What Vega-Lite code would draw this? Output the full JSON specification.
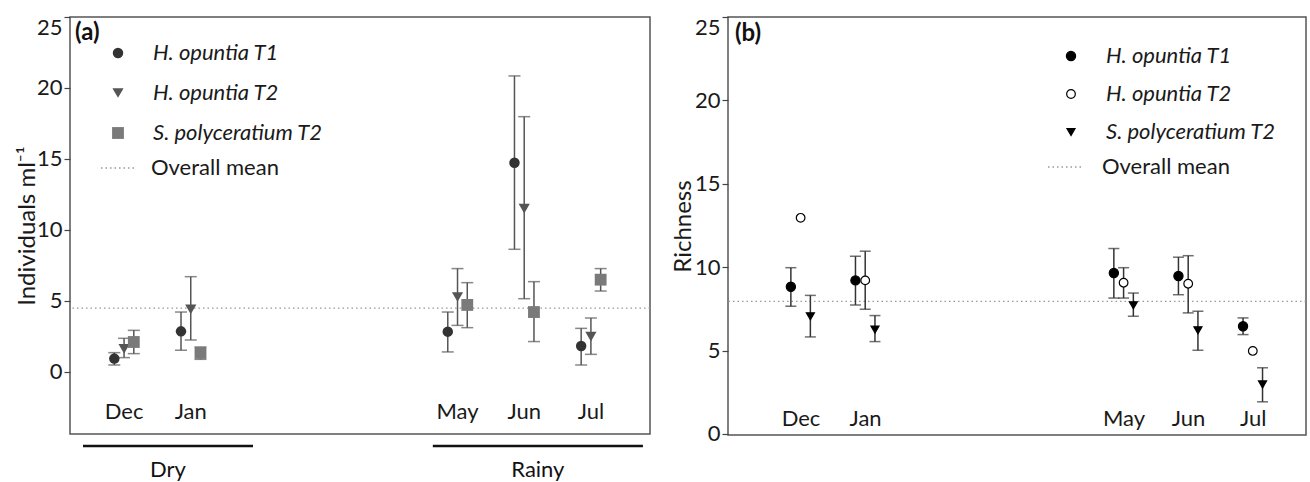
{
  "$schema": "https://vega.github.io/schema/vega-lite/v6.json",
  "padding": {"left": 14, "top": 15, "right": 0, "bottom": 0},
  "background": "white",
  "bounds": "flush",
  "spacing": 78,
  "config": {
    "font": "Lato",
    "view": {"stroke": "#555", "strokeWidth": 1.5},
    "axis": {"grid": false, "labelFont": "Lato", "titleFont": "Lato", "labelColor": "#1a1a1a", "titleColor": "#1a1a1a", "titleFontWeight": "normal"},
    "legend": {"labelFont": "Lato", "labelColor": "#1a1a1a", "labelLimit": 400}
  },
  "resolve": {
    "scale": {"color": "independent", "shape": "independent", "size": "independent", "strokeDash": "independent"},
    "legend": {"color": "independent", "shape": "independent", "size": "independent", "strokeDash": "independent"}
  },
  "datasets": {
    "a": [
      {"month": "Dec", "series": "H. opuntia T1", "mean": 0.94, "lo": 0.49, "hi": 1.36},
      {"month": "Dec", "series": "H. opuntia T2", "mean": 1.62, "lo": 1.01, "hi": 2.37},
      {"month": "Dec", "series": "S. polyceratium T2", "mean": 2.11, "lo": 1.29, "hi": 2.93},
      {"month": "Jan", "series": "H. opuntia T1", "mean": 2.86, "lo": 1.53, "hi": 4.22},
      {"month": "Jan", "series": "H. opuntia T2", "mean": 4.41, "lo": 2.25, "hi": 6.71},
      {"month": "Jan", "series": "S. polyceratium T2", "mean": 1.34, "lo": 0.89, "hi": 1.76},
      {"month": "May", "series": "H. opuntia T1", "mean": 2.84, "lo": 1.41, "hi": 4.22},
      {"month": "May", "series": "H. opuntia T2", "mean": 5.28, "lo": 3.28, "hi": 7.28},
      {"month": "May", "series": "S. polyceratium T2", "mean": 4.72, "lo": 3.12, "hi": 6.29},
      {"month": "Jun", "series": "H. opuntia T1", "mean": 14.74, "lo": 8.64, "hi": 20.85},
      {"month": "Jun", "series": "H. opuntia T2", "mean": 11.5, "lo": 5.16, "hi": 17.98},
      {"month": "Jun", "series": "S. polyceratium T2", "mean": 4.22, "lo": 2.14, "hi": 6.36},
      {"month": "Jul", "series": "H. opuntia T1", "mean": 1.83, "lo": 0.49, "hi": 3.07},
      {"month": "Jul", "series": "H. opuntia T2", "mean": 2.49, "lo": 1.24, "hi": 3.8},
      {"month": "Jul", "series": "S. polyceratium T2", "mean": 6.5, "lo": 5.7, "hi": 7.28}
    ],
    "b": [
      {"month": "Dec", "series": "H. opuntia T1", "mean": 8.83, "lo": 7.66, "hi": 9.97},
      {"month": "Dec", "series": "H. opuntia T2", "mean": 12.96, "lo": null, "hi": null},
      {"month": "Dec", "series": "S. polyceratium T2", "mean": 7.06, "lo": 5.82, "hi": 8.31},
      {"month": "Jan", "series": "H. opuntia T1", "mean": 9.21, "lo": 7.74, "hi": 10.65},
      {"month": "Jan", "series": "H. opuntia T2", "mean": 9.21, "lo": 7.48, "hi": 10.96},
      {"month": "Jan", "series": "S. polyceratium T2", "mean": 6.26, "lo": 5.54, "hi": 7.1},
      {"month": "May", "series": "H. opuntia T1", "mean": 9.65, "lo": 8.15, "hi": 11.12},
      {"month": "May", "series": "H. opuntia T2", "mean": 9.07, "lo": 8.15, "hi": 9.97},
      {"month": "May", "series": "S. polyceratium T2", "mean": 7.72, "lo": 7.06, "hi": 8.45},
      {"month": "Jun", "series": "H. opuntia T1", "mean": 9.47, "lo": 8.35, "hi": 10.6},
      {"month": "Jun", "series": "H. opuntia T2", "mean": 9.01, "lo": 7.26, "hi": 10.69},
      {"month": "Jun", "series": "S. polyceratium T2", "mean": 6.22, "lo": 5.02, "hi": 7.36},
      {"month": "Jul", "series": "H. opuntia T1", "mean": 6.46, "lo": 5.96, "hi": 6.96},
      {"month": "Jul", "series": "H. opuntia T2", "mean": 4.98, "lo": null, "hi": null},
      {"month": "Jul", "series": "S. polyceratium T2", "mean": 2.97, "lo": 1.93, "hi": 3.97}
    ],
    "meanA": [{"label": "Overall mean", "value": 4.5}],
    "meanB": [{"label": "Overall mean", "value": 7.95}],
    "seasons": [
      {"season": "Dry", "start": -0.615, "end": 1.934},
      {"season": "Rainy", "start": 4.63, "end": 7.78}
    ]
  },
  "hconcat": [
    {
      "width": 580,
      "height": 417,
      "title": {"text": "(a)", "anchor": "start", "frame": "group", "offset": -29, "dx": 5, "fontSize": 24, "fontWeight": "bold", "color": "#111", "font": "Lato"},
      "layer": [
        {
          "layer": [
            {
              "data": {"name": "meanA"},
              "mark": {"type": "rule", "color": "#999", "strokeWidth": 1.3},
              "encoding": {
                "y": {"field": "value", "type": "quantitative",
                  "scale": {"domain": [-4.37, 25], "nice": false, "zero": false},
                  "axis": {"title": "Individuals ml⁻¹", "values": [0, 5, 10, 15, 20, 25], "tickSize": 6, "tickColor": "#444", "tickWidth": 1.2, "domain": false, "labelFontSize": 22, "labelPadding": 2, "labelFlush": 0.5, "titleFontSize": 24, "titlePadding": -3}},
                "strokeDash": {"field": "label", "type": "nominal", "scale": {"range": [[1.5, 3]]},
                  "legend": {"orient": "none", "legendX": 30, "legendY": 132, "title": null, "labelFontSize": 22, "labelFontStyle": "normal", "labelOffset": 13, "symbolSize": 1296, "symbolStrokeColor": "#999", "symbolStrokeWidth": 1.3, "symbolType": "stroke", "padding": 0}}
              }
            },
            {
              "data": {"name": "a"},
              "transform": [{"filter": "datum.lo != null"}],
              "mark": {"type": "rule", "color": "#555", "strokeWidth": 1.5},
              "encoding": {
                "x": {"field": "month", "type": "nominal", "scale": {"type": "band", "domain": ["Dec", "Jan", "Feb", "Mar", "Apr", "May", "Jun", "Jul"], "paddingInner": 0.5615, "paddingOuter": 0.629, "align": 0.47},
                  "axis": {"values": ["Dec", "Jan", "May", "Jun", "Jul"], "title": null, "domain": false, "ticks": false, "tickSize": 0, "labelPadding": -22.5, "labelBaseline": "middle", "labelFontSize": 22, "labelAngle": 0}},
                "xOffset": {"field": "series", "type": "nominal", "scale": {"domain": ["H. opuntia T1", "H. opuntia T2", "S. polyceratium T2"], "paddingInner": 0, "paddingOuter": 0}},
                "y": {"field": "lo", "type": "quantitative"},
                "y2": {"field": "hi"}
              }
            },
            {
              "data": {"name": "a"},
              "transform": [{"filter": "datum.hi != null"}],
              "mark": {"type": "tick", "color": "#555", "thickness": 1.5, "size": 12, "orient": "horizontal"},
              "encoding": {
                "x": {"field": "month", "type": "nominal"},
                "xOffset": {"field": "series", "type": "nominal"},
                "y": {"field": "hi", "type": "quantitative"}
              }
            },
            {
              "data": {"name": "a"},
              "transform": [{"filter": "datum.lo != null"}],
              "mark": {"type": "tick", "color": "#555", "thickness": 1.5, "size": 12, "orient": "horizontal"},
              "encoding": {
                "x": {"field": "month", "type": "nominal"},
                "xOffset": {"field": "series", "type": "nominal"},
                "y": {"field": "lo", "type": "quantitative"}
              }
            },
            {
              "data": {"name": "a"},
              "mark": {"type": "point", "filled": true, "opacity": 1},
              "encoding": {
                "x": {"field": "month", "type": "nominal"},
                "xOffset": {"field": "series", "type": "nominal"},
                "y": {"field": "mean", "type": "quantitative"},
                "color": {"field": "series", "type": "nominal", "scale": {"domain": ["H. opuntia T1", "H. opuntia T2", "S. polyceratium T2"], "range": ["#333333", "#555555", "#7a7a7a"]},
                  "legend": {"orient": "none", "legendX": 37, "legendY": 25, "title": null, "labelFontSize": 22, "labelFontStyle": "italic", "labelOffset": 24, "rowPadding": 18, "symbolSize": 115, "symbolStrokeWidth": 0, "padding": 0}},
                "shape": {"field": "series", "type": "nominal", "scale": {"domain": ["H. opuntia T1", "H. opuntia T2", "S. polyceratium T2"], "range": ["circle", "triangle-down", "square"]},
                  "legend": {"orient": "none", "legendX": 37, "legendY": 25, "title": null, "labelFontSize": 22, "labelFontStyle": "italic", "labelOffset": 24, "rowPadding": 18, "symbolSize": 115, "symbolStrokeWidth": 0, "padding": 0}},
                "size": {"field": "series", "type": "nominal", "scale": {"domain": ["H. opuntia T1", "H. opuntia T2", "S. polyceratium T2"], "range": [110, 140, 95]}, "legend": null}
              }
            }
          ]
        },
        {
          "data": {"name": "seasons"},
          "transform": [{"calculate": "(datum.start + datum.end) / 2", "as": "mid"}],
          "layer": [
            {
              "mark": {"type": "rule", "strokeWidth": 2.5, "color": "#111"},
              "encoding": {
                "x": {"field": "start", "type": "quantitative", "scale": {"domain": [-0.81, 7.886], "nice": false, "zero": false}, "axis": null},
                "x2": {"field": "end"},
                "y": {"datum": -5.21}
              }
            },
            {
              "mark": {"type": "text", "fontSize": 22, "baseline": "alphabetic", "color": "#111", "font": "Lato"},
              "encoding": {
                "x": {"field": "mid", "type": "quantitative", "axis": null},
                "y": {"datum": -7.4},
                "text": {"field": "season"}
              }
            }
          ]
        }
      ],
      "resolve": {"scale": {"x": "independent"}, "axis": {"x": "independent"}}
    },
    {
      "width": 578,
      "height": 418,
      "title": {"text": "(b)", "anchor": "start", "frame": "group", "offset": -30, "dx": 7, "fontSize": 24, "fontWeight": "bold", "color": "#111", "font": "Lato"},
      "layer": [
        {
          "data": {"name": "meanB"},
          "mark": {"type": "rule", "color": "#999", "strokeWidth": 1.3},
          "encoding": {
            "y": {"field": "value", "type": "quantitative",
              "scale": {"domain": [-0.06, 25], "nice": false, "zero": false},
              "axis": {"title": "Richness", "values": [0, 5, 10, 15, 20, 25], "tickSize": 6, "tickColor": "#444", "tickWidth": 1.2, "domain": false, "labelFontSize": 22, "labelPadding": 2, "labelFlush": 0.5, "titleFontSize": 24, "titlePadding": -1}},
            "strokeDash": {"field": "label", "type": "nominal", "scale": {"range": [[1.5, 3]]},
              "legend": {"orient": "none", "legendX": 319, "legendY": 131, "title": null, "labelFontSize": 22, "labelFontStyle": "normal", "labelOffset": 17, "symbolSize": 1296, "symbolStrokeColor": "#999", "symbolStrokeWidth": 1.3, "symbolType": "stroke", "padding": 0}}
          }
        },
        {
          "data": {"name": "b"},
          "transform": [{"filter": "datum.lo != null"}],
          "mark": {"type": "rule", "color": "#333", "strokeWidth": 1.5},
          "encoding": {
            "x": {"field": "month", "type": "nominal", "scale": {"type": "band", "domain": ["Dec", "Jan", "Feb", "Mar", "Apr", "May", "Jun", "Jul"], "paddingInner": 0.536, "paddingOuter": 0.742, "align": 0.605},
              "axis": {"values": ["Dec", "Jan", "May", "Jun", "Jul"], "title": null, "domain": false, "ticks": false, "tickSize": 0, "labelPadding": -17, "labelBaseline": "middle", "labelFontSize": 22, "labelAngle": 0}},
            "xOffset": {"field": "series", "type": "nominal", "scale": {"domain": ["H. opuntia T1", "H. opuntia T2", "S. polyceratium T2"], "paddingInner": 0, "paddingOuter": 0}},
            "y": {"field": "lo", "type": "quantitative"},
            "y2": {"field": "hi"}
          }
        },
        {
          "data": {"name": "b"},
          "transform": [{"filter": "datum.hi != null"}],
          "mark": {"type": "tick", "color": "#333", "thickness": 1.5, "size": 11, "orient": "horizontal"},
          "encoding": {
            "x": {"field": "month", "type": "nominal"},
            "xOffset": {"field": "series", "type": "nominal"},
            "y": {"field": "hi", "type": "quantitative"}
          }
        },
        {
          "data": {"name": "b"},
          "transform": [{"filter": "datum.lo != null"}],
          "mark": {"type": "tick", "color": "#333", "thickness": 1.5, "size": 11, "orient": "horizontal"},
          "encoding": {
            "x": {"field": "month", "type": "nominal"},
            "xOffset": {"field": "series", "type": "nominal"},
            "y": {"field": "lo", "type": "quantitative"}
          }
        },
        {
          "data": {"name": "b"},
          "mark": {"type": "point", "filled": true, "opacity": 1, "stroke": "#000", "strokeWidth": 1.2},
          "encoding": {
            "x": {"field": "month", "type": "nominal"},
            "xOffset": {"field": "series", "type": "nominal"},
            "y": {"field": "mean", "type": "quantitative"},
            "color": {"field": "series", "type": "nominal", "scale": {"domain": ["H. opuntia T1", "H. opuntia T2", "S. polyceratium T2"], "range": ["#000000", "#ffffff", "#000000"]},
              "legend": {"orient": "none", "legendX": 332, "legendY": 28, "title": null, "labelFontSize": 22, "labelFontStyle": "italic", "labelOffset": 24, "rowPadding": 16, "symbolSize": 85, "symbolStrokeColor": "#000", "symbolStrokeWidth": 1.2, "padding": 0}},
            "shape": {"field": "series", "type": "nominal", "scale": {"domain": ["H. opuntia T1", "H. opuntia T2", "S. polyceratium T2"], "range": ["circle", "circle", "triangle-down"]},
              "legend": {"orient": "none", "legendX": 332, "legendY": 28, "title": null, "labelFontSize": 22, "labelFontStyle": "italic", "labelOffset": 24, "rowPadding": 16, "symbolSize": 85, "symbolStrokeColor": "#000", "symbolStrokeWidth": 1.2, "padding": 0}},
            "size": {"field": "series", "type": "nominal", "scale": {"domain": ["H. opuntia T1", "H. opuntia T2", "S. polyceratium T2"], "range": [85, 65, 120]}, "legend": null}
          }
        }
      ]
    }
  ]
}
